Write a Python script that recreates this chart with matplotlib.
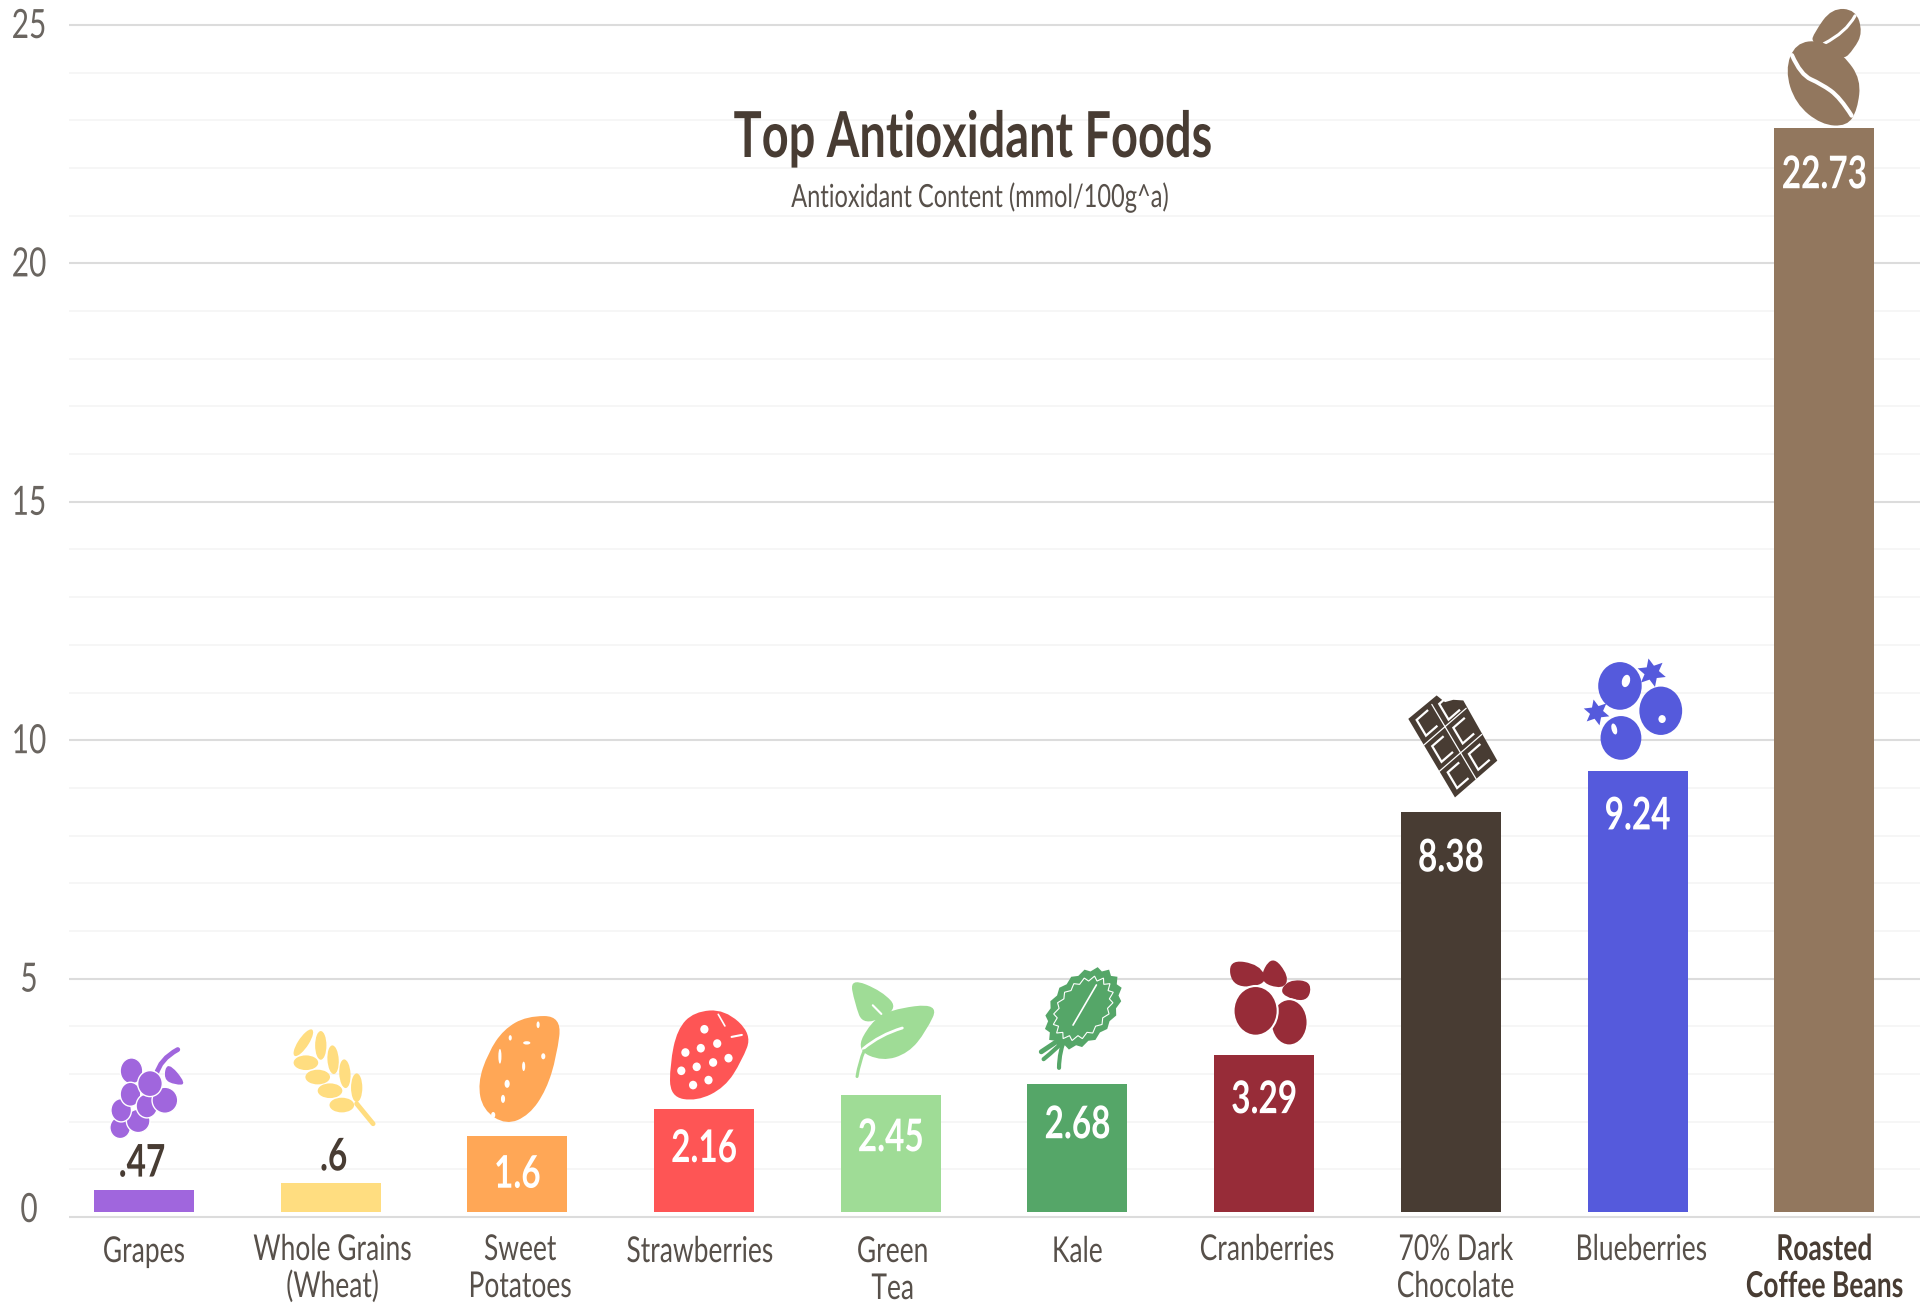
import numpy as np
import matplotlib
matplotlib.use("Agg")
import matplotlib.pyplot as plt
import matplotlib.patheffects as pe
from matplotlib.patches import Ellipse, PathPatch, Polygon
from matplotlib.path import Path
from matplotlib.transforms import Affine2D

# chart values
foods = ["Grapes", "Whole Grains\n(Wheat)", "Sweet\nPotatoes", "Strawberries", "Green\nTea",
         "Kale", "Cranberries", "70% Dark\nChocolate", "Blueberries", "Roasted\nCoffee Beans"]
antioxidants = [0.47, 0.6, 1.6, 2.16, 2.45, 2.68, 3.29, 8.38, 9.24, 22.73]
value_labels = [".47", ".6", "1.6", "2.16", "2.45", "2.68", "3.29", "8.38", "9.24", "22.73"]
bar_colors = ["#a066dd", "#ffdd80", "#ffa756", "#fe5555", "#9fdc96",
              "#55a668", "#972c38", "#483c33", "#555adc", "#92775e"]
major_ticks = [0, 5, 10, 15, 20, 25]
minor_ticks = [t for t in range(26) if t % 5]

BROWN = "#483c33"
TICK_GREY = "#6a6560"

W, H = 1920, 1303
PX_PER_UNIT = 47.68
ZERO_Y = 1217        # pixel row of the zero line
BAR_LIFT = 5         # bars float a little above the zero line
STEP = 186.7
FIRST_X = 143.9
LEFT = 69


class Stretch(pe.AbstractPathEffect):
    """Draws glyphs taller than the font's own proportions."""
    def __init__(self, sy):
        self.sy = sy

    def draw_path(self, renderer, gc, tpath, affine, rgbFace=None):
        renderer.draw_path(gc, tpath, Affine2D().scale(1, self.sy) + affine, rgbFace)


def blob(points, **kw):
    # closed smooth outline through the midpoints of the given polygon
    pts = np.array(points, float)
    mids = (pts + np.roll(pts, -1, axis=0)) / 2
    verts = [mids[-1]]
    codes = [Path.MOVETO]
    for p, m in zip(pts, mids):
        verts += [p, m]
        codes += [Path.CURVE3, Path.CURVE3]
    return PathPatch(Path(verts, codes), lw=0, **kw)


def ell(x, y, rx, ry, fc, angle=0, ec="none", lw=0):
    return Ellipse((x, y), 2 * rx, 2 * ry, angle=angle, fc=fc, ec=ec, lw=lw)


def stroke(points, color, lw):
    pts = np.array(points, float)
    verts = [pts[0]]
    codes = [Path.MOVETO]
    for i in range(1, len(pts) - 1):
        m = (pts[i] + pts[i + 1]) / 2 if i < len(pts) - 2 else pts[i + 1]
        verts += [pts[i], m]
        codes += [Path.CURVE3, Path.CURVE3]
    if len(pts) == 2:
        verts.append(pts[1])
        codes.append(Path.LINETO)
    return PathPatch(Path(verts, codes), fc="none", ec=color, lw=lw, capstyle="round")


def star(x, y, r, sx=1.0):
    ang = np.linspace(0, 2 * np.pi, 13)[:-1] + 0.3
    rad = np.where(np.arange(12) % 2, r * 0.5, r)
    return np.column_stack([x + sx * rad * np.cos(ang), y + rad * np.sin(ang)])


def grapes_icon():
    c = bar_colors[0]
    out = [stroke([(308, 372), (315, 325), (350, 296)], c, 3.5),
           blob([(330, 330), (368, 400), (345, 402), (322, 385)], fc=c)]
    for x, y, rx, ry in [(260, 360, 22, 39), (238, 530, 20, 33), (273, 510, 23, 35), (240, 478, 20, 35),
                         (258, 430, 20, 36), (290, 465, 21, 36), (325, 448, 25, 39), (296, 398, 24, 39)]:
        out.append(ell(x, y, rx, ry, c, ec="white", lw=1.0))
    return out


def wheat_icon():
    c = bar_colors[1]
    out = [stroke([(700, 470), (732, 530)], c, 3.5)]
    for x, y, ang in [(596, 287, 22), (630, 295, 0), (654, 338, -2), (677, 380, -2), (700, 422, 0)]:
        out.append(ell(x, y, 11, 43, c, angle=ang))
    for x, y in [(601, 347), (624, 390), (648, 431), (671, 474)]:
        out.append(ell(x, y, 24, 22, c))
    return out


def potato_icon():
    c = bar_colors[2]
    out = [blob([(1098, 200), (1030, 200), (985, 240), (955, 310), (935, 400), (945, 480), (990, 525),
                 (1035, 495), (1068, 420), (1088, 320)], fc=c)]
    for x, y, rx, ry in [(1052, 226, 3, 10), (998, 265, 3, 8), (1030, 280, 7, 5), (978, 320, 3, 22),
                         (1062, 320, 4, 9), (1024, 350, 3, 14), (992, 402, 5, 12), (984, 447, 4, 12), (965, 495, 4, 9)]:
        out.append(ell(x, y, rx, ry, "white"))
    return out


def strawberry_icon():
    c = bar_colors[3]
    out = [blob([(1365, 182), (1425, 175), (1478, 250), (1458, 330), (1425, 410), (1370, 452),
                 (1318, 438), (1318, 340), (1332, 235)], fc=c)]
    for x, y in [(1385, 235), (1348, 305), (1378, 292), (1410, 278), (1432, 322),
                 (1402, 335), (1370, 348), (1340, 360), (1363, 403), (1393, 388)]:
        out.append(ell(x, y, 8, 13, "white"))
    out.append(stroke([(1412, 190), (1425, 225)], "white", 1.2))
    out.append(stroke([(1438, 258), (1458, 252)], "white", 1.5))
    return out


def tea_icon():
    c = bar_colors[4]
    return [blob([(112, 150), (180, 190), (215, 245), (140, 295), (122, 225)], fc=c),
            blob([(300, 225), (195, 245), (155, 285), (125, 365), (180, 400), (235, 375), (272, 310)], fc=c),
            stroke([(140, 362), (175, 320), (222, 300)], "white", 2),
            stroke([(160, 232), (178, 258)], "white", 1.5),
            stroke([(127, 445), (132, 400), (142, 368)], c, 2.2)]


def kale_icon():
    c = bar_colors[5]
    ang = np.linspace(0, 2 * np.pi, 37)[:-1]

    def wavy(scale, bump):
        rad = scale + bump * (np.arange(36) % 2)
        x = rad * 70 * np.cos(ang)
        y = rad * 112 * np.sin(ang)
        return np.column_stack([622 + x + 0.25 * y * -1, 250 + y])

    return [stroke([(590, 325), (565, 350), (532, 380)], c, 3.5),
            stroke([(585, 330), (570, 380), (570, 428)], c, 3),
            stroke([(590, 335), (565, 370), (537, 402)], c, 3),
            Polygon(wavy(1.0, 0.1), closed=True, fc=c, ec="none"),
            Polygon(wavy(0.74, 0.12), closed=True, fc="none", ec="white", lw=0.8),
            stroke([(650, 180), (600, 300)], "white", 1.2)]


def cranberry_icon():
    c = bar_colors[6]
    return [blob([(925, 65), (995, 80), (1012, 140), (935, 150)], fc=c),
            blob([(1020, 50), (1058, 115), (1045, 155), (990, 130)], fc=c),
            blob([(1055, 125), (1108, 130), (1098, 195), (1035, 170)], fc=c),
            ell(1058, 252, 40, 69, c, ec="white", lw=1.5),
            ell(985, 218, 48, 74, c, ec="white", lw=1.5)]


def chocolate_icon():
    c = bar_colors[7]
    left = np.array([165.0, 295.0])
    short = np.array([127.0, -110.0])
    long_side = np.array([140.0, 235.0])

    def at(u, v):
        return tuple(left + u * short + v * long_side)

    out = [Polygon([at(0, 0), (250, 225), (275, 245), (300, 238), (330, 240),
                    at(1, 1), at(0, 1)], closed=True, fc=c, ec="none")]
    out.append(stroke([at(0.5, 0.05), at(0.5, 1)], "white", 0.9))
    for v in (1 / 3, 2 / 3):
        out.append(stroke([at(0, v), at(1, v)], "white", 0.9))
    for row in range(3):
        for col in range(2):
            if row == 0 and col == 1:
                u0, v0 = 0.62, 0.1
            else:
                u0, v0 = 0.12 + col * 0.5, 0.07 + row / 3
            out.append(Polygon([at(u0 + 0.27, v0), at(u0, v0), at(u0, v0 + 0.2), at(u0 + 0.27, v0 + 0.2)],
                               closed=False, fc="none", ec="white", lw=1.6))
    return out


def blueberry_icon():
    c = bar_colors[8]
    return [Polygon(star(905, 135, 44), closed=True, fc=c, ec="none"),
            Polygon(star(740, 255, 40), closed=True, fc=c, ec="none"),
            ell(810, 175, 65, 72, c),
            ell(932, 250, 64, 73, c),
            ell(813, 332, 61, 66, c),
            ell(828, 160, 12, 19, "white", angle=15),
            ell(936, 275, 11, 12, "white"),
            ell(793, 305, 8, 17, "white", angle=-15)]


def coffee_icon():
    c = bar_colors[9]
    return [blob([(1280, 215), (1330, 135), (1400, 140), (1420, 215), (1395, 270), (1360, 310), (1270, 250)], fc=c),
            stroke([(1398, 160), (1372, 215), (1308, 252)], "white", 2.2),
            blob([(1225, 250), (1300, 240), (1365, 290), (1415, 370), (1405, 470), (1375, 525),
                  (1300, 520), (1225, 450), (1195, 340)], fc=c, ec="white"),
            stroke([(1215, 290), (1240, 355), (1300, 385), (1355, 430), (1388, 490)], "white", 3)]


# source box of each drawing, then its size and placement above the bar
icon_makers = [grapes_icon, wheat_icon, potato_icon, strawberry_icon, tea_icon,
               kale_icon, cranberry_icon, chocolate_icon, blueberry_icon, coffee_icon]
icon_boxes = [(218, 290, 362, 560), (577, 250, 733, 535), (940, 205, 1095, 515), (1318, 180, 1470, 445),
              (120, 160, 292, 450), (528, 130, 695, 435), (935, 70, 1098, 320), (165, 225, 432, 530),
              (710, 95, 997, 400), (1207, 145, 1410, 515)]
icon_sizes = [(74, 90), (80, 95), (80, 104), (78, 88), (82, 97), (78, 102), (75, 84), (89, 102), (96, 101), (70, 112)]
icon_dx = [3, 3, 3, 5, 4, 1, 6, 2, -3, 0]
icon_gaps = [52, 58, 14, 10, 17, 14, 10, 15, 11, 5]

label_dx = [0, 2, 3, -4, 2, 0, 3, 5, 4, 0]
label_baselines = [1262, 1260, 1260, 1262, 1262, 1262, 1260, 1260, 1260, 1260]
value_drops = [0, 0, 52, 53, 56, 54, 58, 59, 58, 60]

fig = plt.figure(figsize=(W / 100, H / 100), dpi=100, facecolor="white")
ax = fig.add_axes([LEFT / W, 0, 1 - LEFT / W, 1])
ax.set_xlim((LEFT - FIRST_X) / STEP, (W - FIRST_X) / STEP)
ax.set_ylim((ZERO_Y - H) / PX_PER_UNIT, ZERO_Y / PX_PER_UNIT)
for side in ax.spines.values():
    side.set_visible(False)

ax.set_yticks(major_ticks)
ax.set_yticks(minor_ticks, minor=True)
ax.set_xticks(range(len(foods)))
ax.tick_params(which="both", length=0, labelleft=False, labelbottom=False)
ax.grid(True, axis="y", which="major", color="#dcdcdc", lw=1.5, zorder=0)
ax.grid(True, axis="y", which="minor", color="#f6f6f6", lw=1.3, zorder=0)
ax.set_axisbelow(True)

bar_base = BAR_LIFT / PX_PER_UNIT
ax.bar(range(len(foods)), antioxidants, bottom=bar_base, width=100 / STEP, color=bar_colors, zorder=2)

tall = [Stretch(1.35)]
ax_y = ax.get_yaxis_transform()

# y axis numbers
for t in major_ticks:
    drop = 5 if t == 0 else 13
    txt = ax.annotate(str(t), xy=(0, t), xycoords=ax_y, xytext=(29 - LEFT, -drop), textcoords="offset pixels",
                      ha="center", va="baseline", family="Lato", fontsize=21.5, color=TICK_GREY)
    txt.set_path_effects(tall)

# food names under the bars
for i, name in enumerate(foods):
    bold = i == len(foods) - 1
    for k, line in enumerate(name.split("\n")):
        txt = ax.annotate(line, xy=(i, 0), xytext=(label_dx[i], ZERO_Y - label_baselines[i] - 37 * k),
                          textcoords="offset pixels", ha="center", va="baseline", family="Lato",
                          fontsize=19, fontweight="bold" if bold else "normal", color=BROWN if bold else "#57504a")
        txt.set_path_effects(tall)

# values inside the bars, or just above the two shortest
for i, (val, lab) in enumerate(zip(antioxidants, value_labels)):
    top = val + bar_base
    if val < 1:
        txt = ax.annotate(lab, xy=(i, top), xytext=(-2 if i == 0 else 3, 13), textcoords="offset pixels",
                          ha="center", va="baseline", family="Lato", fontweight="bold", fontsize=24, color=BROWN)
    else:
        txt = ax.annotate(lab, xy=(i, top), xytext=(0, -value_drops[i]), textcoords="offset pixels",
                          ha="center", va="baseline", family="Lato", fontweight="bold", fontsize=24, color="white",
                          zorder=4)
    txt.set_path_effects(tall)

t1 = fig.text(973 / W, 1 - 157 / H, "Top Antioxidant Foods", ha="center", va="baseline", family="Lato",
              fontweight="bold", fontsize=33.8, color=BROWN)
t2 = fig.text(980 / W, 1 - 207 / H, "Antioxidant Content (mmol/100g^a)", ha="center", va="baseline", family="Lato",
              fontsize=17, color="#57504a")
t1.set_path_effects(tall)
t2.set_path_effects(tall)

# small food drawings sitting on top of each bar
fig.canvas.draw()
for i, make in enumerate(icon_makers):
    x0, y0, x1, y1 = icon_boxes[i]
    w, h = icon_sizes[i]
    cx, top_px = ax.transData.transform((i, antioxidants[i] + bar_base))
    place = (Affine2D().translate(-x0, -y1).scale(w / (x1 - x0), -h / (y1 - y0))
             .translate(cx + icon_dx[i] - w / 2, top_px + icon_gaps[i]))
    for shape in make():
        shape.set_transform(place)
        shape.set_zorder(3)
        ax.add_artist(shape)
        shape.set_clip_on(False)

fig.savefig("out.png", dpi=100)
